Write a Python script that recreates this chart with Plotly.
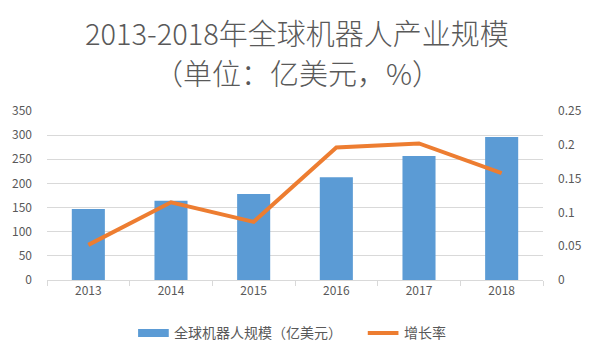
import plotly.graph_objects as go

years = ["2013", "2014", "2015", "2016", "2017", "2018"]
scale = [147, 164, 178, 213, 257, 296]          # 全球机器人规模（亿美元）
growth = [0.052, 0.115, 0.086, 0.196, 0.202, 0.158]  # 增长率
left_ticks = [0, 50, 100, 150, 200, 250, 300, 350]
right_ticks = [0, 0.05, 0.1, 0.15, 0.2, 0.25]
right_labels = ["0", "0.05", "0.1", "0.15", "0.2", "0.25"]

title_line1 = "2013-2018年全球机器人产业规模"
title_line2 = "（单位：亿美元，%）"
bar_name = "全球机器人规模（亿美元）"
line_name = "增长率"
BLUE = "#5B9BD5"
ORANGE = "#ED7D31"
TXT = "#595959"
GRID = "#D9D9D9"
FONT = "Noto Sans CJK SC"

fig = go.Figure()
fig.add_trace(go.Bar(x=years, y=scale, name=bar_name, marker=dict(color=BLUE, line=dict(width=0)),
                     showlegend=False))
fig.add_trace(go.Scatter(x=years, y=growth, name=line_name, yaxis="y2", mode="lines",
                         line=dict(color=ORANGE, width=4), showlegend=False))

fig.update_layout(
    width=594, height=353,
    margin=dict(l=44, r=49, t=111, b=73),
    paper_bgcolor="white", plot_bgcolor="white",
    font=dict(family=FONT, color=TXT, size=12),
    bargap=0.6,
    xaxis=dict(type="category", showgrid=False, showline=True, linecolor=GRID, linewidth=1,
               ticks="outside", tickson="boundaries", ticklen=5, tickcolor=GRID,
               tickfont=dict(size=12, color=TXT)),
    yaxis=dict(range=[0, 350], tickvals=left_ticks, showgrid=True, gridcolor=GRID, gridwidth=1,
               zeroline=False, showline=False, ticks="", ticklabelstandoff=14,
               tickfont=dict(size=12, color=TXT)),
    yaxis2=dict(range=[0, 0.25], overlaying="y", side="right", tickvals=right_ticks,
                ticktext=right_labels, showgrid=False, zeroline=False, showline=False, ticks="",
                ticklabelstandoff=14, tickfont=dict(size=12, color=TXT)),
)

H = 169.0
W = 501.0
def py(px):
    return (280 - px) / H
def pxx(px):
    return (px - 44) / W

# title (two lines)
fig.add_annotation(text=title_line1, xref="paper", yref="paper", x=pxx(297), y=py(32),
                   xanchor="center", yanchor="middle", showarrow=False,
                   font=dict(family=FONT, size=29, color=TXT, weight=300))
fig.add_annotation(text=title_line2, xref="paper", yref="paper", x=pxx(297), y=py(72),
                   xanchor="center", yanchor="middle", showarrow=False,
                   font=dict(family=FONT, size=29, color=TXT, weight=300))

# custom legend (swatches + real text)
fig.add_shape(type="rect", xref="paper", yref="paper",
              x0=pxx(136), x1=pxx(167), y0=py(337), y1=py(329),
              fillcolor=BLUE, line=dict(width=0))
fig.add_annotation(text=bar_name, xref="paper", yref="paper", x=pxx(170), y=py(332),
                   xanchor="left", yanchor="middle", showarrow=False,
                   font=dict(family=FONT, size=14, color=TXT))
fig.add_shape(type="line", xref="paper", yref="paper",
              x0=pxx(368), x1=pxx(399), y0=py(333), y1=py(333),
              line=dict(color=ORANGE, width=4))
fig.add_annotation(text=line_name, xref="paper", yref="paper", x=pxx(403), y=py(332),
                   xanchor="left", yanchor="middle", showarrow=False,
                   font=dict(family=FONT, size=14, color=TXT))

fig.write_html("out.html")
